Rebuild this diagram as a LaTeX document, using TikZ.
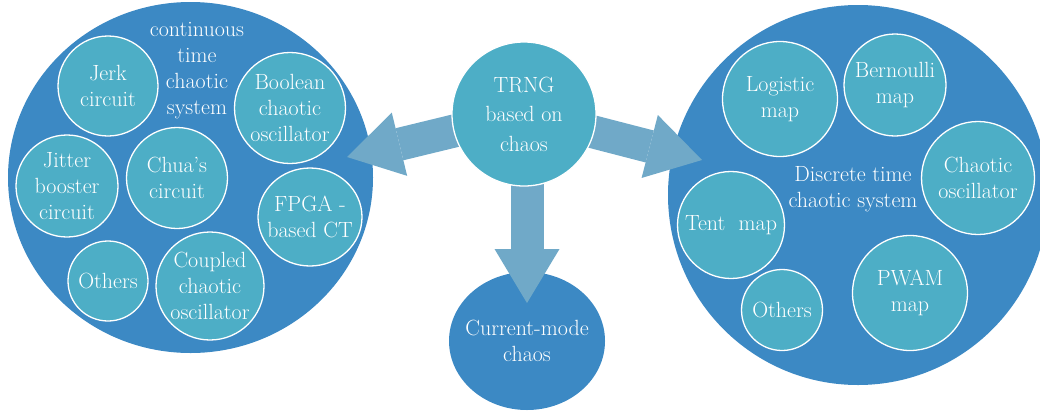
\documentclass[tikz,border=0pt]{standalone}
\usetikzlibrary{shapes.geometric,arrows.meta}
\definecolor{bigblue}{RGB}{60,137,196}
\definecolor{tealc}{RGB}{77,174,198}
\definecolor{arrowblue}{RGB}{112,169,200}
\pgfdeclarelayer{bg}
\pgfdeclarelayer{mid}
\pgfsetlayers{bg,mid,main}
\begin{document}
\begin{tikzpicture}[x=1pt,y=-1pt,
  txt/.style={text=white,font=\fontsize{22}{26}\selectfont,align=center,inner sep=0pt},
  bigell/.style={ellipse,fill=bigblue,inner sep=0pt},
  small/.style={ellipse,fill=tealc,draw=white,line width=1.3pt,inner sep=0pt},
  sz/.style={minimum width=#1,minimum height=#1},
  say/.style={label={[txt]center:#1}},
  blockarrow/.style={draw=arrowblue,line width=33pt,
    -{Triangle[width=65pt,length=54pt,line width=0pt]}}]
\useasboundingbox (0,0) rectangle (1040,413);
\begin{pgfonlayer}{bg}
  \node[bigell,minimum width=365pt,minimum height=351pt] (left) at (190.5,177.5) {};
  \node[bigell,sz=380pt] (right) at (858,195) {};
  \node[bigell,minimum width=156pt,minimum height=138pt,say={Current-mode\\chaos}] (cur) at (527,341) {};
\end{pgfonlayer}
% centre
\node[small,sz=144pt,label={[txt,font=\fontsize{22}{29.5}\selectfont]center:TRNG\\based on\\chaos}] (trng) at (524,114) {};
% left group
\node[txt] (ctitle) at (197,70.5) {continuous\\time\\chaotic\\system};
\node[small,sz=100pt,say={Jerk\\circuit}] (jerk) at (108,86) {};
\node[small,sz=111pt,say={Boolean\\chaotic\\oscillator}] (bool) at (290,108) {};
\node[small,sz=102pt,say={Jitter\\booster\\circuit}] (jitter) at (67,186) {};
\node[small,sz=101pt,say={Chua’s\\circuit}] (chua) at (177,178) {};
\node[small,minimum width=104pt,minimum height=98pt,say={FPGA -\\based CT}] (fpga) at (310,217) {};
\node[small,sz=80pt,say={Others}] (lothers) at (108,281) {};
\node[small,sz=108pt,say={Coupled\\chaotic\\oscillator}] (coupled) at (210,286) {};
% right group
\node[txt] (dtitle) at (853,189) {Discrete time\\chaotic system};
\node[small,sz=115pt,say={Logistic\\map}] (logistic) at (780,99) {};
\node[small,sz=102pt,say={Bernoulli\\map}] (bern) at (895,85) {};
\node[small,sz=113pt,say={Chaotic\\oscillator}] (chosc) at (978,178) {};
\node[small,sz=107pt,say={Tent\ \ map}] (tent) at (731,225) {};
\node[small,sz=81pt,say={Others}] (rothers) at (782,310) {};
\node[small,sz=115pt,say={PWAM\\map}] (pwam) at (910,293) {};
% arrows
\coordinate (ltip) at (347,157);
\coordinate (rtip) at (702,160);
\coordinate (dtip) at (527,303);
\begin{pgfonlayer}{mid}
  \draw[blockarrow] (trng.center) -- (ltip);
  \draw[blockarrow] (trng.center) -- (rtip);
  \draw[blockarrow] (dtip |- trng.center) -- (dtip);
\end{pgfonlayer}
\end{tikzpicture}
\end{document}
